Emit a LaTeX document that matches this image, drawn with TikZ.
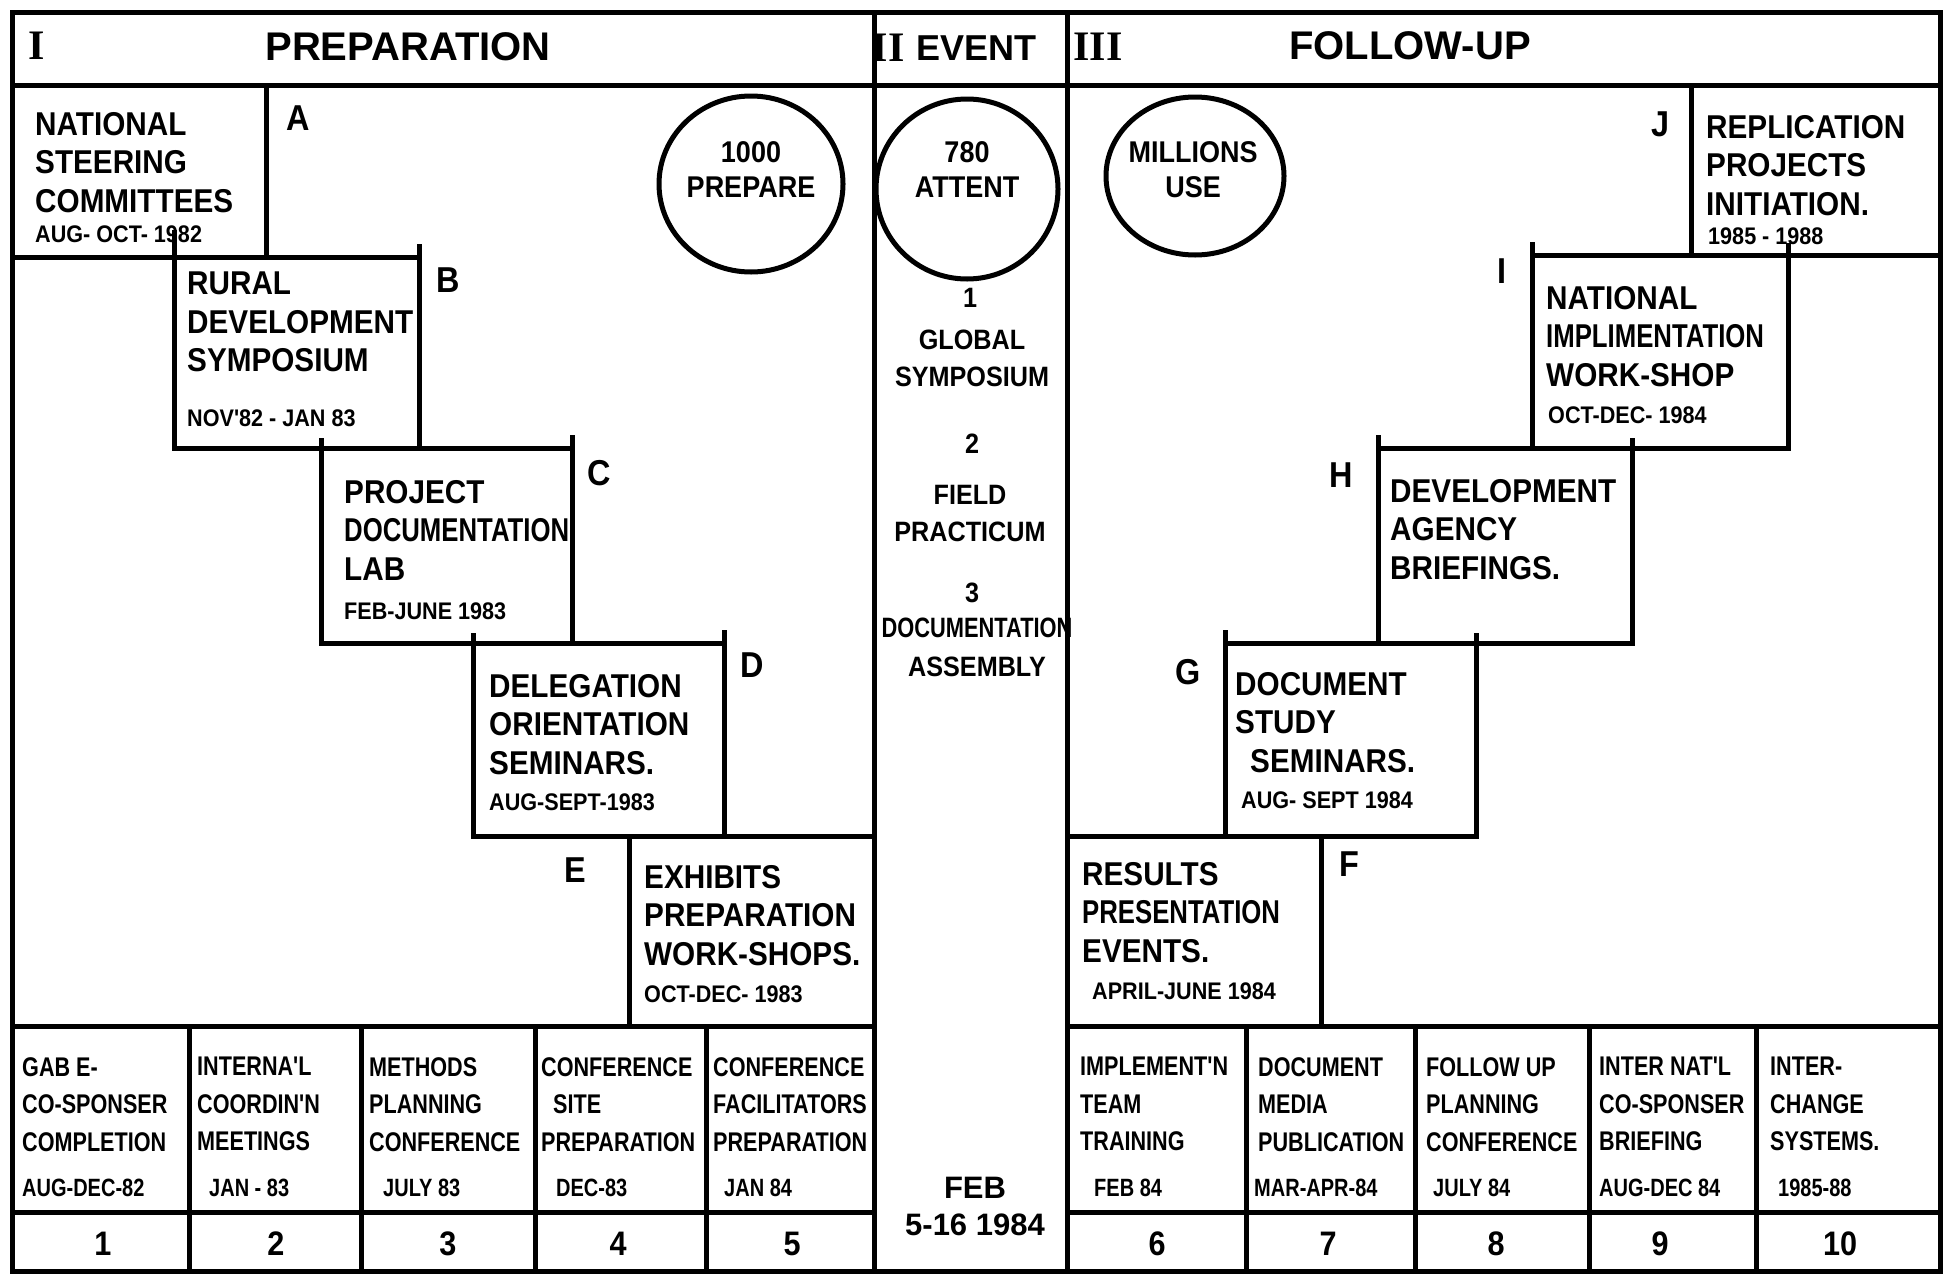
\documentclass[tikz,border=0pt]{standalone}
\usepackage{fontspec}
\setmainfont{Liberation Sans}
\newfontfamily\hand{Liberation Sans}[FakeStretch=0.9]
\newfontfamily\handn{Liberation Sans}[FakeStretch=0.78]
\newfontfamily\handc{Liberation Sans}[FakeStretch=0.8]
\newfontfamily\romn{Liberation Serif}
\usetikzlibrary{shapes.geometric}
\begin{document}
\begin{tikzpicture}[x=1pt,y=-1pt,
  line/.style={line width=5pt},
  tick/.style={line width=5pt},
  stepbox/.style={draw, line width=5pt, inner sep=0pt, outer sep=0pt},
  body/.style={anchor=north west, align=left, inner sep=0pt, font=\hand\bfseries\fontsize{33}{38.5}\selectfont},
  dt/.style={anchor=west, inner sep=0pt, font=\hand\bfseries\fontsize{24}{28}\selectfont},
  lbl/.style={inner sep=0pt, font=\hand\bfseries\fontsize{36}{40}\selectfont},
  cellt/.style={anchor=north west, align=left, inner sep=0pt, font=\handc\bfseries\fontsize{27}{37.5}\selectfont},
  celld/.style={anchor=west, inner sep=0pt, font=\handc\bfseries\fontsize{25}{28}\selectfont},
  num/.style={inner sep=0pt, font=\hand\bfseries\fontsize{34}{38}\selectfont},
  evt/.style={align=center, inner sep=0pt, font=\hand\bfseries\fontsize{28}{37}\selectfont},
  circ/.style={draw, ellipse, line width=5pt, inner sep=0pt},
  ctext/.style={align=center, inner sep=0pt, font=\hand\bfseries\fontsize{30}{35}\selectfont},
  hdr/.style={inner sep=0pt, font=\bfseries\fontsize{40}{44}\selectfont},
  rom/.style={inner sep=0pt, font=\romn\bfseries\fontsize{42}{44}\selectfont}
]
\useasboundingbox (0,0) rectangle (1950,1277);
\fill[white] (0,0) rectangle (1950,1277);

% frame and grid
\draw[line] (12,12) rectangle (1940,1271);
\draw[line] (12,85) -- (1940,85);
\draw[line] (874,12) -- (874,1271);
\draw[line] (1067,12) -- (1067,1271);
\draw[line] (12,1026) -- (874,1026);
\draw[line] (1067,1026) -- (1940,1026);
\draw[line] (12,1212) -- (874,1212);
\draw[line] (1067,1212) -- (1940,1212);
\foreach \xx in {189,361,535,706,1246,1415,1589,1756}
  \draw[line] (\xx,1026) -- (\xx,1271);

% header
\node[rom] (hI) at (37,46) {I};
\node[hdr] (hPrep) at (408,47) {PREPARATION};
\node[rom] (hII) at (888,48) {II};
\node[hdr, font=\bfseries\fontsize{36}{40}\selectfont] (hEvent) at (976,48) {EVENT};
\node[rom] (hIII) at (1098,47) {III};
\node[hdr] (hFollow) at (1410,46) {FOLLOW-UP};

% step boxes
\node[stepbox, minimum width=254pt, minimum height=172pt] (A) at (139,171) {};
\node[stepbox, minimum width=245pt, minimum height=191pt] (B) at (296.5,352.5) {};
\node[stepbox, minimum width=251pt, minimum height=195pt] (C) at (446.5,545.5) {};
\node[stepbox, minimum width=251pt, minimum height=193pt] (D) at (598.5,739.5) {};
\node[stepbox, minimum width=245pt, minimum height=190pt] (E) at (751.5,931) {};
\node[stepbox, minimum width=254pt, minimum height=190pt] (F) at (1194,931) {};
\node[stepbox, minimum width=251pt, minimum height=193pt] (G) at (1350.5,739.5) {};
\node[stepbox, minimum width=254pt, minimum height=195pt] (H) at (1505,545.5) {};
\node[stepbox, minimum width=256pt, minimum height=193pt] (I) at (1660,351.5) {};
\node[stepbox, minimum width=249pt, minimum height=170pt] (J) at (1815.5,170) {};

% corner overshoots
\draw[tick] (B.north west) -- ++(0,-27);
\draw[tick] (B.north east) -- ++(0,-13);
\draw[tick] (C.north west) -- ++(0,-10);
\draw[tick] (C.north east) -- ++(0,-13);
\draw[tick] (D.north west) -- ++(0,-10);
\draw[tick] (D.north east) -- ++(0,-13);
\draw[tick] (G.north west) -- ++(0,-13);
\draw[tick] (G.north east) -- ++(0,-10);
\draw[tick] (H.north west) -- ++(0,-13);
\draw[tick] (H.north east) -- ++(0,-10);
\draw[tick] (I.north west) -- ++(0,-13);
\draw[tick] (I.north east) -- ++(0,-12);

% step texts
\node[body] (tA) at (35,112) {NATIONAL\\STEERING\\COMMITTEES};
\node[dt] (dA) at (35,234) {AUG- OCT- 1982};
\node[body] (tB) at (187,272) {RURAL\\DEVELOPMENT\\SYMPOSIUM};
\node[dt] (dB) at (187,418) {NOV'82 - JAN 83};
\node[body] (tC) at (344,480) {PROJECT\\{\handn DOCUMENTATION}\\LAB};
\node[dt] (dC) at (344,611) {FEB-JUNE 1983};
\node[body] (tD) at (489,674) {DELEGATION\\ORIENTATION\\SEMINARS.};
\node[dt] (dD) at (489,802) {AUG-SEPT-1983};
\node[body] (tE) at (644,865) {EXHIBITS\\PREPARATION\\WORK-SHOPS.};
\node[dt] (dE) at (644,994) {OCT-DEC- 1983};
\node[body] (tF) at (1082,862) {RESULTS\\{\handn PRESENTATION}\\EVENTS.};
\node[dt] (dF) at (1092,991) {APRIL-JUNE 1984};
\node[body] (tG) at (1235,672) {DOCUMENT\\STUDY\\\hspace{15pt}SEMINARS.};
\node[dt] (dG) at (1241,800) {AUG- SEPT 1984};
\node[body] (tH) at (1390,479) {DEVELOPMENT\\AGENCY\\BRIEFINGS.};
\node[body] (tI) at (1546,286) {NATIONAL\\{\handn IMPLIMENTATION}\\WORK-SHOP};
\node[dt] (dI) at (1548,415) {OCT-DEC- 1984};
\node[body] (tJ) at (1706,115) {REPLICATION\\PROJECTS\\INITIATION.};
\node[dt] (dJ) at (1708,236) {1985 - 1988};

% step labels
\node[lbl] (lA) at (298,118) {A};
\node[lbl] (lB) at (448,280) {B};
\node[lbl] (lC) at (599,473) {C};
\node[lbl] (lD) at (752,665) {D};
\node[lbl] (lE) at (575,870) {E};
\node[lbl] (lF) at (1349,864) {F};
\node[lbl] (lG) at (1188,672) {G};
\node[lbl] (lH) at (1341,475) {H};
\node[lbl] (lI) at (1502,271) {I};
\node[lbl] (lJ) at (1660,124) {J};

% circles
\node[circ, minimum width=184pt, minimum height=176pt] (cPrep) at (751,184) {};
\node[ctext] (tPrep) at (751,170) {1000\\PREPARE};
\node[circ, minimum width=182pt, minimum height=180pt] (cAtt) at (967,189) {};
\node[ctext] (tAtt) at (967,170) {780\\ATTENT};
\node[circ, minimum width=178pt, minimum height=158pt] (cMil) at (1195,176) {};
\node[ctext] (tMil) at (1193,170) {MILLIONS\\USE};

% event column
\node[evt] (e1) at (970,298) {1};
\node[evt] (e1t) at (972,358) {GLOBAL\\SYMPOSIUM};
\node[evt] (e2) at (972,444) {2};
\node[evt] (e2t) at (970,513) {FIELD\\PRACTICUM};
\node[evt] (e3) at (972,593) {3};
\node[evt, font=\hand\bfseries\fontsize{28}{39}\selectfont] (e3t) at (977,647) {{\handn DOCUMENTATION}\\ASSEMBLY};
\node[evt, font=\bfseries\fontsize{31}{37}\selectfont] (eDate) at (975,1206) {FEB\\5-16 1984};

% bottom table, left
\node[cellt] (c1) at (22,1057) {GAB E-\\CO-SPONSER\\COMPLETION};
\node[celld] (d1) at (22,1188) {AUG-DEC-82};
\node[num] (n1) at (103,1244) {1};
\node[cellt] (c2) at (197,1057) {INTERNA'L\\COORDIN'N\\MEETINGS};
\node[celld] (d2) at (209,1188) {JAN - 83};
\node[num] (n2) at (276,1244) {2};
\node[cellt] (c3) at (369,1057) {METHODS\\PLANNING\\CONFERENCE};
\node[celld] (d3) at (383,1188) {JULY 83};
\node[num] (n3) at (448,1244) {3};
\node[cellt] (c4) at (541,1057) {CONFERENCE\\\hspace{12pt}SITE\\PREPARATION};
\node[celld] (d4) at (556,1188) {DEC-83};
\node[num] (n4) at (618,1244) {4};
\node[cellt] (c5) at (713,1057) {CONFERENCE\\FACILITATORS\\PREPARATION};
\node[celld] (d5) at (724,1188) {JAN 84};
\node[num] (n5) at (792,1244) {5};

% bottom table, right
\node[cellt] (c6) at (1080,1057) {IMPLEMENT'N\\TEAM\\TRAINING};
\node[celld] (d6) at (1094,1188) {FEB 84};
\node[num] (n6) at (1157,1244) {6};
\node[cellt] (c7) at (1258,1057) {DOCUMENT\\MEDIA\\PUBLICATION};
\node[celld] (d7) at (1254,1188) {MAR-APR-84};
\node[num] (n7) at (1328,1244) {7};
\node[cellt] (c8) at (1426,1057) {FOLLOW UP\\PLANNING\\CONFERENCE};
\node[celld] (d8) at (1433,1188) {JULY 84};
\node[num] (n8) at (1496,1244) {8};
\node[cellt] (c9) at (1599,1057) {INTER NAT'L\\CO-SPONSER\\BRIEFING};
\node[celld] (d9) at (1599,1188) {AUG-DEC 84};
\node[num] (n9) at (1660,1244) {9};
\node[cellt] (c10) at (1770,1057) {INTER-\\CHANGE\\SYSTEMS.};
\node[celld] (d10) at (1778,1188) {1985-88};
\node[num] (n10) at (1840,1244) {10};
\end{tikzpicture}
\end{document}
